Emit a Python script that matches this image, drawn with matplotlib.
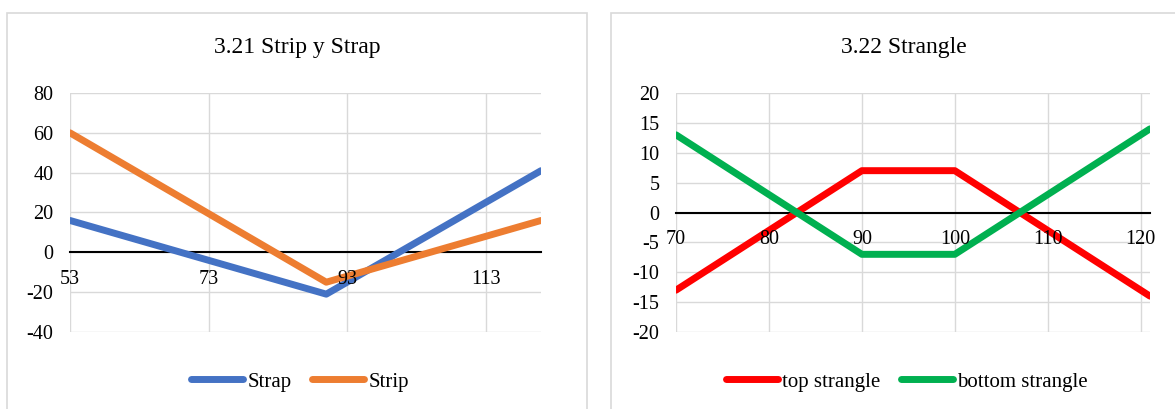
import matplotlib
matplotlib.use("Agg")
import matplotlib.pyplot as plt
from matplotlib.lines import Line2D
from matplotlib.patches import Rectangle

plt.rcParams['font.family'] = ['Liberation Serif', 'DejaVu Serif']
plt.rcParams['axes.unicode_minus'] = False

# Strip y Strap (strike 90)
strip_strap_x = [53, 90, 121]
strap_values = [16, -21, 41]
strip_values = [60, -15, 16]
strip_strap_xticks = [53, 73, 93, 113]
strip_strap_yticks = [-40, -20, 0, 20, 40, 60, 80]

# Strangle (strikes 90 / 100)
strangle_x = [70, 90, 100, 121]
top_strangle = [-13, 7, 7, -14]
bottom_strangle = [13, -7, -7, 14]
strangle_xticks = [70, 80, 90, 100, 110, 120]
strangle_yticks = [-20, -15, -10, -5, 0, 5, 10, 15, 20]

W, H = 1175, 409
GRID = '#d9d9d9'


def style_axes(ax, xlim, ylim, xticks, yticks):
    ax.set_xlim(*xlim)
    ax.set_ylim(*ylim)
    ax.set_xticks(xticks)
    ax.set_yticks(yticks)
    # gridlines drawn by hand so they stay under the series
    # while the tick labels go on top
    for t in xticks:
        ax.axvline(t, color=GRID, linewidth=1.0, zorder=0.5)
    for t in yticks:
        ax.axhline(t, color=GRID, linewidth=1.0, zorder=0.5)
    for side in ['left', 'right', 'top']:
        ax.spines[side].set_visible(False)
    # horizontal axis sits on the zero line, labels just below it
    ax.spines['bottom'].set_position(('data', 0))
    ax.spines['bottom'].set_color('black')
    ax.spines['bottom'].set_linewidth(1.5)
    ax.spines['bottom'].set_zorder(1.5)
    ax.xaxis.set_zorder(3)
    ax.yaxis.set_zorder(3)
    ax.tick_params(axis='x', length=0, pad=12.5, labelsize=14.5)
    ax.tick_params(axis='y', length=0, pad=12, labelsize=14.5)


def add_panel(fig, x0, x1):
    rect = Rectangle((x0 / W, -0.05), (x1 - x0) / W, 1.05 - 13 / H,
                     transform=fig.transFigure, fill=False,
                     edgecolor=GRID, linewidth=1.2)
    fig.patches.append(rect)


fig = plt.figure(figsize=(W / 100, H / 100), dpi=100)

add_panel(fig, 7, 587)
add_panel(fig, 611, 1200)

line_kw = dict(linewidth=5.0, solid_capstyle='round', solid_joinstyle='round')

# left chart
ax1 = fig.add_axes([70 / W, 1 - 332 / H, (541 - 70) / W, 239 / H])
ax1.plot(strip_strap_x, strap_values, color='#4472C4', zorder=2, **line_kw)
ax1.plot(strip_strap_x, strip_values, color='#ED7D31', zorder=2, **line_kw)
style_axes(ax1, (53, 121), (-40, 80), strip_strap_xticks, strip_strap_yticks)

fig.text(297 / W, 1 - 48 / H, '3.21 Strip y Strap', ha='center', va='center',
         fontsize=17)
handles1 = [Line2D([], [], color='#4472C4', **line_kw),
            Line2D([], [], color='#ED7D31', **line_kw)]
fig.legend(handles1, ['Strap', 'Strip'], loc='center', ncol=2,
           bbox_to_anchor=(300 / W, 1 - 382 / H), frameon=False,
           fontsize=15, handlelength=2.5, handletextpad=0.2,
           columnspacing=1.0)

# right chart
ax2 = fig.add_axes([676 / W, 1 - 332 / H, (1150 - 676) / W, 239 / H])
ax2.plot(strangle_x, top_strangle, color='#FF0000', zorder=2, **line_kw)
ax2.plot(strangle_x, bottom_strangle, color='#00B050', zorder=2, **line_kw)
style_axes(ax2, (70, 121), (-20, 20), strangle_xticks, strangle_yticks)

fig.text(904 / W, 1 - 48 / H, '3.22 Strangle', ha='center', va='center',
         fontsize=17)
handles2 = [Line2D([], [], color='#FF0000', **line_kw),
            Line2D([], [], color='#00B050', **line_kw)]
fig.legend(handles2, ['top strangle', 'bottom strangle'], loc='center', ncol=2,
           bbox_to_anchor=(907 / W, 1 - 382 / H), frameon=False,
           fontsize=15, handlelength=2.5, handletextpad=0.2,
           columnspacing=1.0)

fig.savefig('out.png', dpi=100)
